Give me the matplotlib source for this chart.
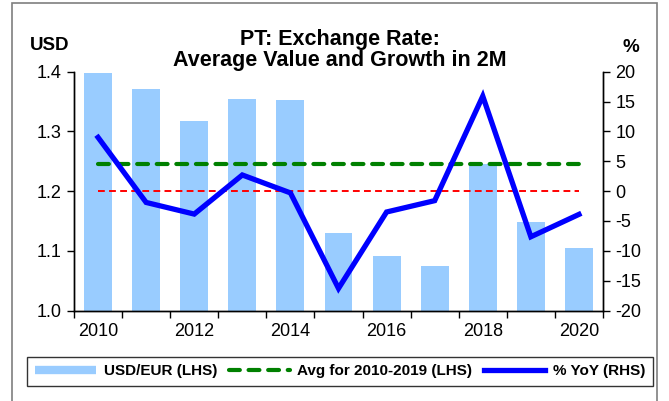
import matplotlib
matplotlib.use("Agg")
import matplotlib.pyplot as plt
from matplotlib.patches import Rectangle
from matplotlib.lines import Line2D

plt.rcParams['font.family'] = ['Liberation Sans', 'DejaVu Sans']

years = [2010, 2011, 2012, 2013, 2014, 2015, 2016, 2017, 2018, 2019, 2020]
usd_eur = [1.397, 1.371, 1.317, 1.355, 1.352, 1.130, 1.091, 1.075, 1.245, 1.148, 1.104]
avg_2010_2019 = [1.245] * 11
yoy = [9.0, -1.9, -3.85, 2.7, -0.3, -16.3, -3.5, -1.6, 15.9, -7.65, -3.9]
zero_ref = [0.0] * 11
x_labels = ['2010', '', '2012', '', '2014', '', '2016', '', '2018', '', '2020']
left_ticks = [1.0, 1.1, 1.2, 1.3, 1.4]
right_ticks = [-20, -15, -10, -5, 0, 5, 10, 15, 20]

fig = plt.figure(figsize=(6.69, 4.01), dpi=100)
ax = fig.add_axes([74/669, 1-310.5/401, (603-74)/669, (310.5-71.7)/401])
ax2 = ax.twinx()

x = list(range(len(years)))
ax.bar(x, usd_eur, width=0.58, color='#99CCFF', zorder=1)
ax.plot(x, avg_2010_2019, color='#008000', lw=3.0, dashes=(2.6, 2.1),
        dash_capstyle='round', zorder=3)
ax2.plot(x, zero_ref, color='#FF0000', lw=1.4, dashes=(3.5, 2.2), zorder=2)
ax2.plot(x, yoy, color='#0000FF', lw=3.8, zorder=4, solid_joinstyle='miter')

ax.set_zorder(ax2.get_zorder() - 1)
ax.patch.set_visible(False)
ax2.patch.set_visible(False)

ax.set_xlim(-0.5, 10.5)
ax.set_ylim(1.0, 1.4)
ax2.set_ylim(-20, 20)
ax.set_yticks(left_ticks)
ax.set_yticklabels([f'{v:.1f}' for v in left_ticks])
ax2.set_yticks(right_ticks)
ax2.set_yticklabels([str(v) for v in right_ticks])

ax.set_xticks(x)
ax.set_xticklabels(x_labels)
ax.tick_params(axis='x', which='major', length=0, pad=9, labelsize=13)
ax.set_xticks([i - 0.5 for i in range(12)], minor=True)
ax.tick_params(axis='x', which='minor', length=5, width=1, direction='out')
ax.tick_params(axis='y', length=5, width=1, direction='out', labelsize=13, pad=4)
ax2.tick_params(axis='y', length=5, width=1, direction='out', labelsize=13, pad=4)

for a in (ax, ax2):
    a.spines['top'].set_visible(False)
    for s in ('left', 'right', 'bottom'):
        a.spines[s].set_linewidth(1)
        a.spines[s].set_color('black')

fig.text(0.508, 1-50/401, 'PT: Exchange Rate:\nAverage Value and Growth in 2M',
         ha='center', va='center', fontsize=15.5, fontweight='bold', linespacing=1.0)
fig.text(50/669, 1-45/401, 'USD', ha='center', va='center', fontsize=13.5, fontweight='bold')
fig.text(631/669, 1-47/401, '%', ha='center', va='center', fontsize=13.5, fontweight='bold')

fig.patches.append(Rectangle((12/669, -0.05), (657-12)/669, 1.05 - 3/401,
                             transform=fig.transFigure, fill=False,
                             edgecolor='#7F7F7F', lw=1.2))

handles = [Line2D([0], [0], color='#99CCFF', lw=6, solid_capstyle='butt'),
           Line2D([0], [0], color='#008000', lw=3.0, dashes=(2.6, 2.1), dash_capstyle='round'),
           Line2D([0], [0], color='#0000FF', lw=3.8)]
labels = ['USD/EUR (LHS)', 'Avg for 2010-2019 (LHS)', '% YoY (RHS)']
leg = fig.legend(handles, labels, loc='center', bbox_to_anchor=(340/669, 1-371.5/401),
                 ncol=3, frameon=True, fancybox=False, edgecolor='black',
                 prop={'weight': 'bold', 'size': 11}, handlelength=4.0,
                 handletextpad=0.5, columnspacing=0.75, borderpad=0.5)
leg.get_frame().set_linewidth(1)

fig.savefig('out.png', dpi=100)
